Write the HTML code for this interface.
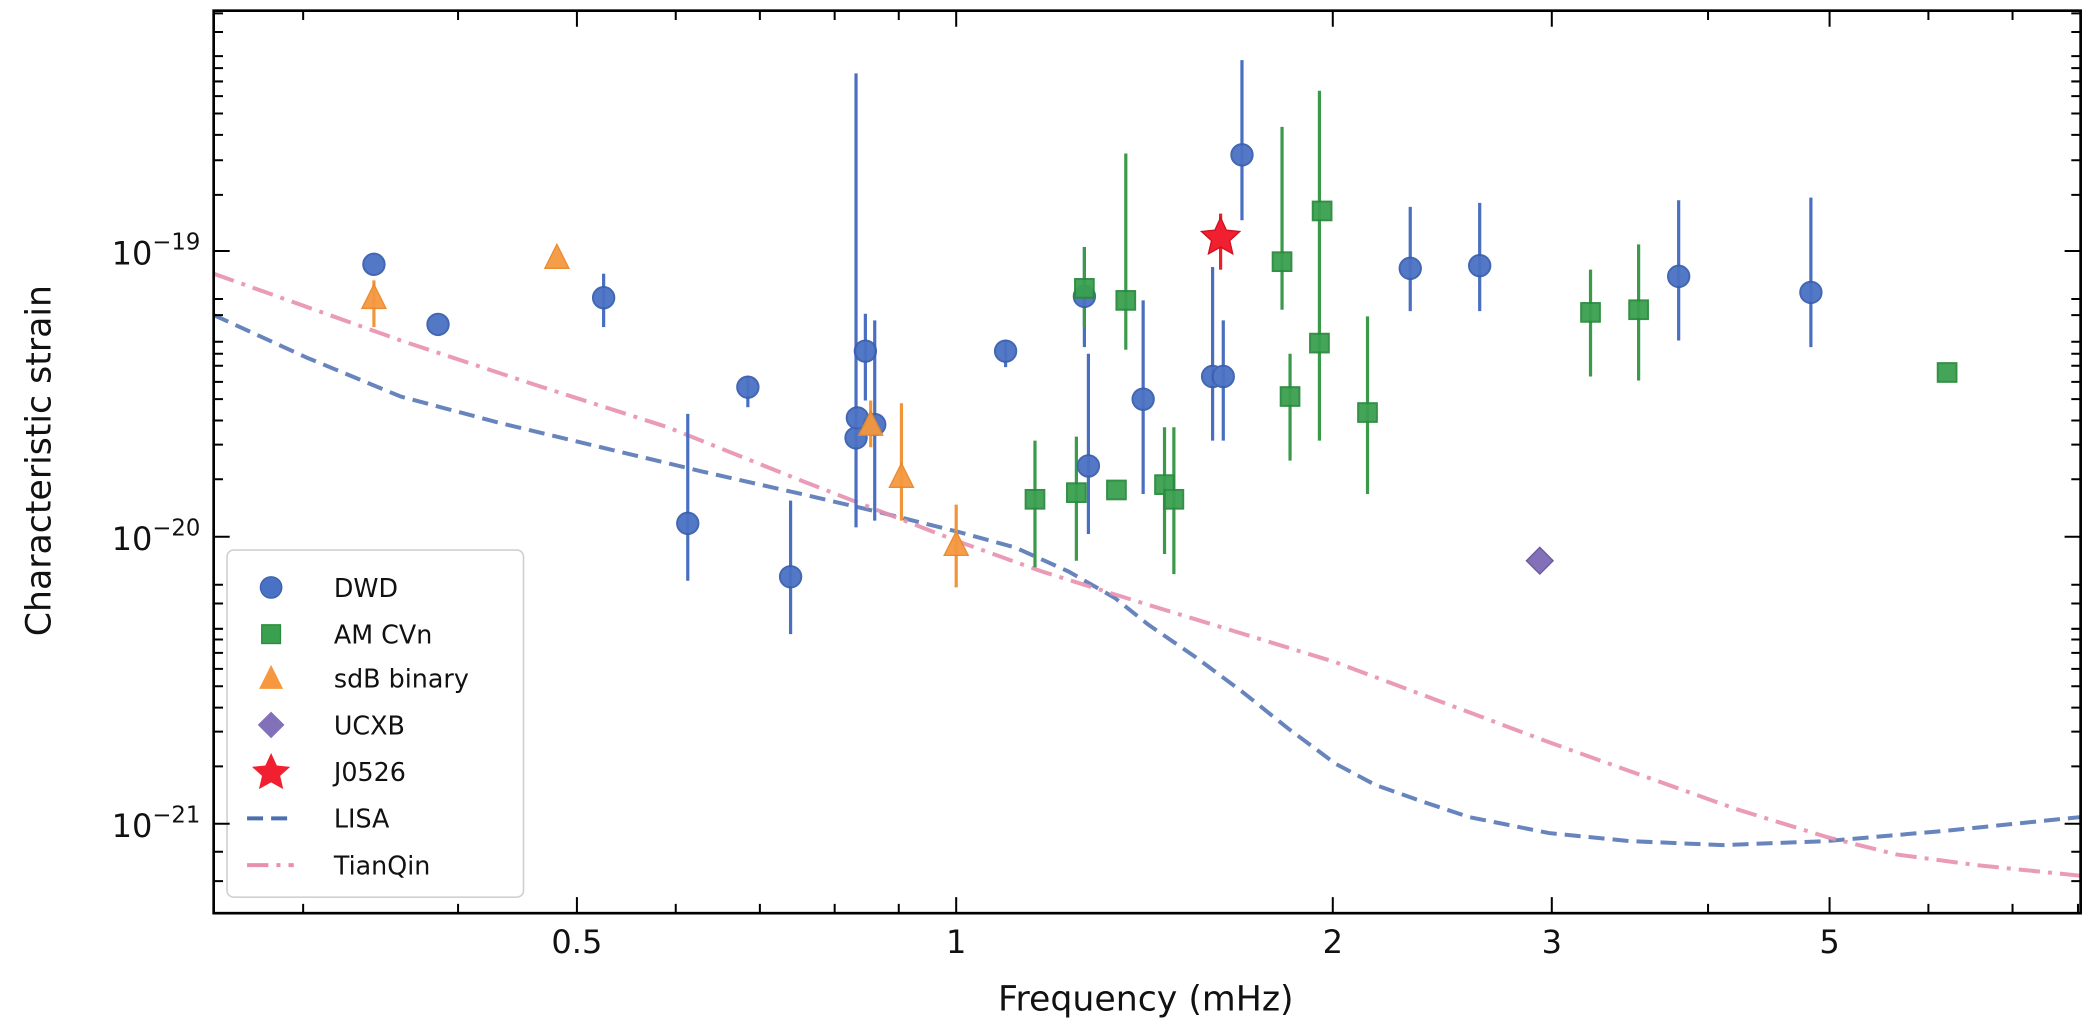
<!DOCTYPE html>
<html><head><meta charset="utf-8"><style>
html,body{margin:0;padding:0;background:#fff;}
svg{display:block;}
text{font-family:"DejaVu Sans","Liberation Sans",sans-serif;fill:#111;}
</style></head><body>
<svg width="2094" height="1032" viewBox="0 0 1568 773" preserveAspectRatio="none" xmlns="http://www.w3.org/2000/svg">
<rect width="1568" height="773" fill="#fff"/>
<!-- curves -->
<polyline fill="none" stroke="#4c6fb0" stroke-width="3" stroke-dasharray="12,6" opacity="0.85"
 points="160,236 230,268 300,297 375,317 450,335 525,353 600,370 660,384 716,398 760,410 800,428 835,448 860,468 895,492 930,518 965,546 1000,572 1030,588 1064,600 1100,612 1160,624 1220,630 1290,633 1368,630 1460,622 1558,612"/>
<polyline fill="none" stroke="#e890b0" stroke-width="3" stroke-dasharray="16,6,3,6" opacity="0.9"
 points="160,205 230,230 300,255 400,288 500,320 600,360 716,405 780,428 850,450 925,473 1000,496 1080,526 1160,556 1230,581 1300,606 1368,627 1420,640 1480,648 1558,656"/>
<!-- error bars -->
<g stroke-width="2.4" fill="none">
<g stroke="#4a6fc0">
<line x1="452" y1="205" x2="452" y2="245"/><line x1="560" y1="282" x2="560" y2="305"/>
<line x1="515" y1="310" x2="515" y2="435"/><line x1="592" y1="375" x2="592" y2="475"/>
<line x1="641" y1="55" x2="641" y2="395"/><line x1="648" y1="235" x2="648" y2="300"/>
<line x1="655" y1="240" x2="655" y2="390"/><line x1="753" y1="255" x2="753" y2="275"/>
<line x1="812" y1="185" x2="812" y2="260"/><line x1="815" y1="265" x2="815" y2="400"/>
<line x1="856" y1="225" x2="856" y2="370"/><line x1="908" y1="200" x2="908" y2="330"/>
<line x1="916" y1="240" x2="916" y2="330"/><line x1="930" y1="45" x2="930" y2="165"/>
<line x1="1056" y1="155" x2="1056" y2="233"/><line x1="1108" y1="152" x2="1108" y2="233"/>
<line x1="1257" y1="150" x2="1257" y2="255"/><line x1="1356" y1="148" x2="1356" y2="260"/>
</g>
<g stroke="#3a9a4a">
<line x1="775" y1="330" x2="775" y2="425"/><line x1="806" y1="327" x2="806" y2="420"/>
<line x1="812" y1="185" x2="812" y2="245"/><line x1="843" y1="115" x2="843" y2="262"/>
<line x1="872" y1="320" x2="872" y2="415"/><line x1="879" y1="320" x2="879" y2="430"/>
<line x1="960" y1="95" x2="960" y2="232"/><line x1="966" y1="265" x2="966" y2="345"/>
<line x1="988" y1="68" x2="988" y2="330"/><line x1="1024" y1="237" x2="1024" y2="370"/>
<line x1="1191" y1="202" x2="1191" y2="282"/><line x1="1227" y1="183" x2="1227" y2="285"/>
</g>
<g stroke="#f0953a">
<line x1="280" y1="210" x2="280" y2="245"/><line x1="652" y1="300" x2="652" y2="335"/>
<line x1="675" y1="302" x2="675" y2="390"/><line x1="716" y1="378" x2="716" y2="440"/>
</g>
<line x1="914" y1="160" x2="914" y2="202" stroke="#e82028"/>
</g>
<!-- markers -->
<g fill="#4a72c4" stroke="#3a5fb0" stroke-width="1.5" opacity="0.95">
<circle cx="280" cy="198" r="8"/><circle cx="328" cy="243" r="8"/><circle cx="452" cy="223" r="8"/>
<circle cx="560" cy="290" r="8"/><circle cx="515" cy="392" r="8"/><circle cx="592" cy="432" r="8"/>
<circle cx="641" cy="328" r="8"/><circle cx="642" cy="313" r="8"/><circle cx="648" cy="263" r="8"/>
<circle cx="655" cy="318" r="8"/><circle cx="753" cy="263" r="8"/><circle cx="812" cy="222" r="8"/>
<circle cx="815" cy="349" r="8"/><circle cx="856" cy="299" r="8"/><circle cx="908" cy="282" r="8"/>
<circle cx="916" cy="282" r="8"/><circle cx="930" cy="116" r="8"/><circle cx="1056" cy="201" r="8"/>
<circle cx="1108" cy="199" r="8"/><circle cx="1257" cy="207" r="8"/><circle cx="1356" cy="219" r="8"/>
</g>
<g fill="#3aa050" stroke="#2a8a3e" stroke-width="1.5" opacity="0.95">
<rect x="768" y="367" width="14" height="14"/><rect x="799" y="362" width="14" height="14"/>
<rect x="805" y="209" width="14" height="14"/><rect x="836" y="218" width="14" height="14"/>
<rect x="829" y="360" width="14" height="14"/><rect x="865" y="356" width="14" height="14"/>
<rect x="872" y="367" width="14" height="14"/><rect x="953" y="189" width="14" height="14"/>
<rect x="959" y="290" width="14" height="14"/><rect x="981" y="250" width="14" height="14"/>
<rect x="983" y="151" width="14" height="14"/><rect x="1017" y="302" width="14" height="14"/>
<rect x="1184" y="227" width="14" height="14"/><rect x="1220" y="225" width="14" height="14"/>
<rect x="1451" y="272" width="14" height="14"/>
</g>
<g fill="#f5983f" stroke="#e8862a" stroke-width="1" opacity="0.95">
<polygon points="280,213 271,231 289,231"/><polygon points="417,183 408,201 426,201"/>
<polygon points="652,308 643,326 661,326"/><polygon points="675,347 666,365 684,365"/>
<polygon points="716,398 707,416 725,416"/>
</g>
<polygon points="1153,410 1163,420 1153,430 1143,420" fill="#8270b8" stroke="#6a5aa0" stroke-width="1"/>
<polygon points="914,163 918.3,172.4 928.3,173.4 920.8,180.2 923.1,190.1 914,185 904.9,190.1 907.2,180.2 899.7,173.4 909.7,172.4" fill="#f02030" stroke="#d01020" stroke-width="1"/>
<!-- legend -->
<rect x="170" y="412" width="222" height="260" rx="5" fill="#fff" fill-opacity="0.8" stroke="#d0d0d0" stroke-width="1.2"/>
<g font-size="19">
<circle cx="203" cy="440" r="8" fill="#4a72c4" stroke="#3a5fb0"/><text x="250" y="447">DWD</text>
<rect x="196" y="468" width="14" height="14" fill="#3aa050" stroke="#2a8a3e"/><text x="250" y="482">AM CVn</text>
<polygon points="203,498 194,516 212,516" fill="#f5983f"/><text x="250" y="515">sdB binary</text>
<polygon points="203,533 213,543 203,553 193,543" fill="#8270b8"/><text x="250" y="550">UCXB</text>
<polygon points="203,564 207.3,573.4 217.3,574.4 209.8,581.2 212.1,591.1 203,586 193.9,591.1 196.2,581.2 188.7,574.4 198.7,573.4" fill="#f02030"/><text x="250" y="585">J0526</text>
<line x1="185" y1="613" x2="220" y2="613" stroke="#4c6fb0" stroke-width="3" stroke-dasharray="12,6"/><text x="250" y="620">LISA</text>
<line x1="185" y1="648" x2="220" y2="648" stroke="#e890b0" stroke-width="3" stroke-dasharray="16,6,3,6"/><text x="250" y="655">TianQin</text>
</g>
<!-- axes frame -->
<rect x="160" y="8" width="1398" height="676" fill="none" stroke="#000" stroke-width="2"/>
<g stroke="#000" stroke-width="1.5">
<!-- x major -->
<path d="M432,684v-12M716,684v-12M998,684v-12M1162,684v-12M1370,684v-12M432,8v12M716,8v12M998,8v12M1162,8v12M1370,8v12"/>
<!-- x minor 0.3,0.4,0.6,0.7,0.8,0.9,4,6,7,8 -->
<path d="M227,684v-7M343,684v-7M506,684v-7M569,684v-7M625,684v-7M673,684v-7M1279,684v-7M1444,684v-7M1507,684v-7M1556,684v-7
M227,8v7M343,8v7M506,8v7M569,8v7M625,8v7M673,8v7M1279,8v7M1444,8v7M1507,8v7"/>
<!-- y major -->
<path d="M160,188h12M160,402h12M160,617h12M1558,188h-12M1558,402h-12M1558,617h-12"/>
<!-- y minor -->
<path d="M160,146h7M160,120h7M160,101h7M160,85h7M160,72h7M160,61h7M160,51h7M160,42h7M160,24h7M160,10h7
M160,359h7M160,333h7M160,315h7M160,299h7M160,286h7M160,274h7M160,265h7M160,256h7M160,236h7M160,224h7
M160,574h7M160,548h7M160,530h7M160,514h7M160,501h7M160,489h7M160,479h7M160,471h7M160,452h7M160,438h7
M160,660h7M160,638h7
M1558,146h-7M1558,120h-7M1558,101h-7M1558,85h-7M1558,72h-7M1558,61h-7M1558,51h-7M1558,42h-7M1558,24h-7M1558,10h-7
M1558,359h-7M1558,333h-7M1558,315h-7M1558,299h-7M1558,286h-7M1558,274h-7M1558,265h-7M1558,256h-7M1558,236h-7M1558,224h-7
M1558,574h-7M1558,548h-7M1558,530h-7M1558,514h-7M1558,501h-7M1558,489h-7M1558,479h-7M1558,471h-7M1558,452h-7M1558,438h-7
M1558,660h-7M1558,638h-7"/>
</g>
<!-- tick labels -->
<g font-size="24" text-anchor="middle">
<text x="432" y="714">0.5</text><text x="716" y="714">1</text><text x="998" y="714">2</text>
<text x="1162" y="714">3</text><text x="1370" y="714">5</text>
</g>
<g font-size="24" text-anchor="end">
<text x="150" y="198"><tspan>10</tspan><tspan font-size="17" dy="-11">−19</tspan></text>
<text x="150" y="412"><tspan>10</tspan><tspan font-size="17" dy="-11">−20</tspan></text>
<text x="150" y="627"><tspan>10</tspan><tspan font-size="17" dy="-11">−21</tspan></text>
</g>
<text x="858" y="757" font-size="26" text-anchor="middle">Frequency (mHz)</text>
<text transform="translate(38,345) rotate(-90)" font-size="26" text-anchor="middle">Characteristic strain</text>
</svg>
</body></html>
